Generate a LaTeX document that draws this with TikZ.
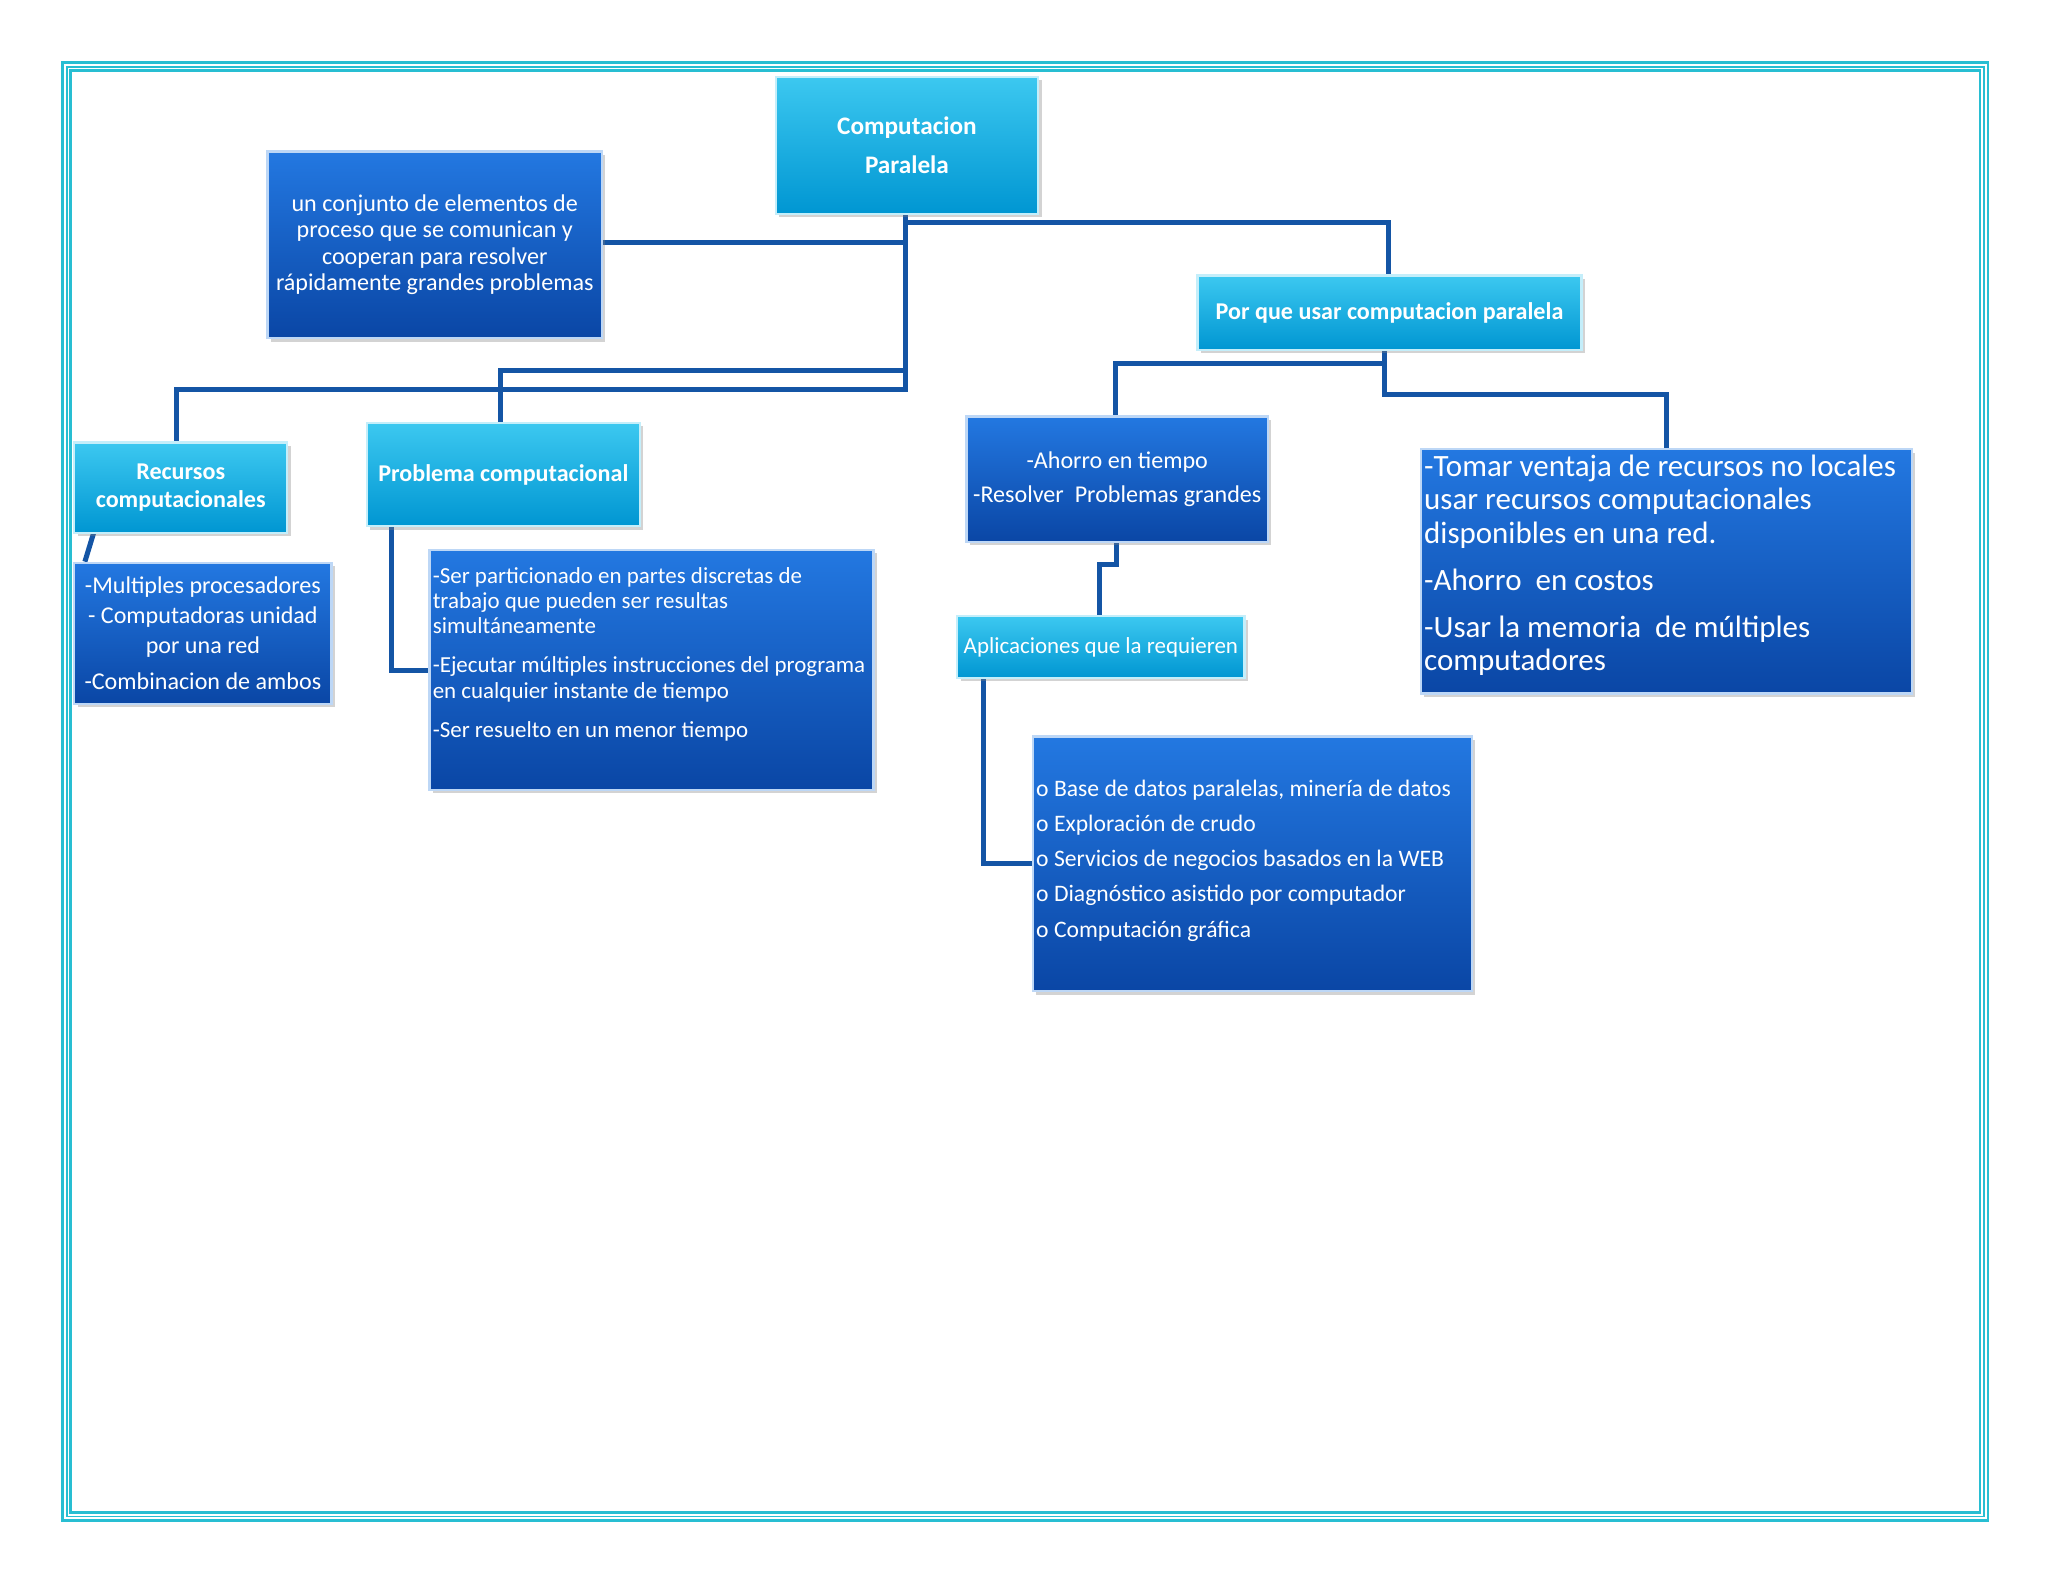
\documentclass[tikz,border=0pt]{standalone}
\usepackage{fontspec}
\setmainfont{Carlito}
\usetikzlibrary{shadows}
\definecolor{lnk}{RGB}{20,85,165}
\definecolor{dtop}{RGB}{35,120,225}
\definecolor{dbot}{RGB}{10,70,165}
\definecolor{ltop}{RGB}{60,200,240}
\definecolor{lbot}{RGB}{0,150,210}
\definecolor{frame}{RGB}{40,190,210}
\begin{document}
\begin{tikzpicture}[x=0.02cm,y=-0.02cm,
  dark/.style={anchor=north west,rectangle,top color=dtop,bottom color=dbot,draw=white!70!dtop,line width=1pt,
    text=white,inner sep=2pt,drop shadow={opacity=0.35,shadow xshift=1.5pt,shadow yshift=-1.5pt},
    font=\fontsize{10.5}{11.5}\selectfont},
  light/.style={anchor=north west,rectangle,top color=ltop,bottom color=lbot,draw=white!70!ltop,line width=1pt,
    text=white,inner sep=2pt,drop shadow={opacity=0.35,shadow xshift=1.5pt,shadow yshift=-1.5pt},
    font=\bfseries\fontsize{10.5}{12}\selectfont,align=center},
  txt/.style={anchor=north west,text=white,inner sep=0pt,align=left},
  con/.style={draw=lnk,line width=2.2pt}]
\useasboundingbox (0,0) rectangle (1568,1211);
\draw[frame,line width=1.2pt] (48,48) rectangle (1522,1164);
\draw[frame,line width=0.8pt] (51,51) rectangle (1519,1161);
\draw[frame,line width=1.2pt] (54,54) rectangle (1516,1158);

\draw[con] (693,163) -- (693,298) -- (135,298) -- (135,338);
\draw[con] (693,284) -- (383,284) -- (383,323);
\draw[con] (460,186) -- (693,186);
\draw[con] (693,170) -- (1063,170) -- (1063,210);
\draw[con] (1060,267) -- (1060,278) -- (854,278) -- (854,318);
\draw[con] (1060,267) -- (1060,302) -- (1276,302) -- (1276,343);
\draw[con] (855,414) -- (855,432) -- (842,432) -- (842,471);
\draw[con] (753,518) -- (753,661) -- (790,661);
\draw[con] (300,402) -- (300,513) -- (328,513);
\draw[con] (72,407) -- (65,430);

\node[light,minimum width=4.02cm,minimum height=2.1cm,font=\bfseries\fontsize{11}{17}\selectfont] (comp) at (593,58) {Computacion\\Paralela};
\node[dark,minimum width=5.12cm,minimum height=2.86cm,align=center] (def) at (204,115)
 {un conjunto de elementos de\\proceso que se comunican y\\cooperan para resolver\\rápidamente grandes problemas};
\node[light,minimum width=5.88cm,minimum height=1.14cm] (porque) at (916,210) {Por que usar computacion paralela};
\node[light,minimum width=3.26cm,minimum height=1.38cm] (rec) at (56,338) {Recursos\\computacionales};
\node[light,minimum width=4.18cm,minimum height=1.58cm] (prob) at (280,323) {Problema computacional};
\node[dark,minimum width=3.94cm,minimum height=2.16cm,align=center,font=\fontsize{10.5}{13}\selectfont] (multi) at (56,430)
 {-Multiples procesadores\\- Computadoras unidad\\por una red\\[3pt]-Combinacion de ambos};

\node[dark,minimum width=6.8cm,minimum height=3.68cm] (ser) at (328,420) {};
\node[txt,font=\fontsize{10}{11}\selectfont] (sert) at (331,434)
 {-Ser particionado en partes discretas de\\trabajo que pueden ser resultas\\simultáneamente\\[6pt]-Ejecutar múltiples instrucciones del programa\\en cualquier instante de tiempo\\[6pt]-Ser resuelto en un menor tiempo};

\node[dark,minimum width=4.62cm,minimum height=1.92cm,align=center,font=\fontsize{10.5}{15}\selectfont] (aho) at (739,318)
 {-Ahorro en tiempo\\-Resolver\ \ Problemas grandes};

\node[dark,minimum width=7.52cm,minimum height=3.74cm] (tomar) at (1087,343) {};
\node[txt,font=\fontsize{13.5}{14.5}\selectfont] (tomart) at (1090,348)
 {-Tomar ventaja de recursos no locales\\usar recursos computacionales\\disponibles en una red.\\[6pt]-Ahorro\ \ en costos\\[6pt]-Usar la memoria\ \ de múltiples\\computadores};

\node[light,minimum width=4.4cm,minimum height=0.94cm,font=\fontsize{10}{12}\selectfont] (apl) at (732,471) {Aplicaciones que la requieren};

\node[dark,minimum width=6.72cm,minimum height=3.9cm] (base) at (790,563) {};
\node[txt,font=\fontsize{10.3}{15.3}\selectfont] (baset) at (793,597)
 {o Base de datos paralelas, minería de datos\\o Exploración de crudo\\o Servicios de negocios basados en la WEB\\o Diagnóstico asistido por computador\\o Computación gráfica};
\end{tikzpicture}
\end{document}
